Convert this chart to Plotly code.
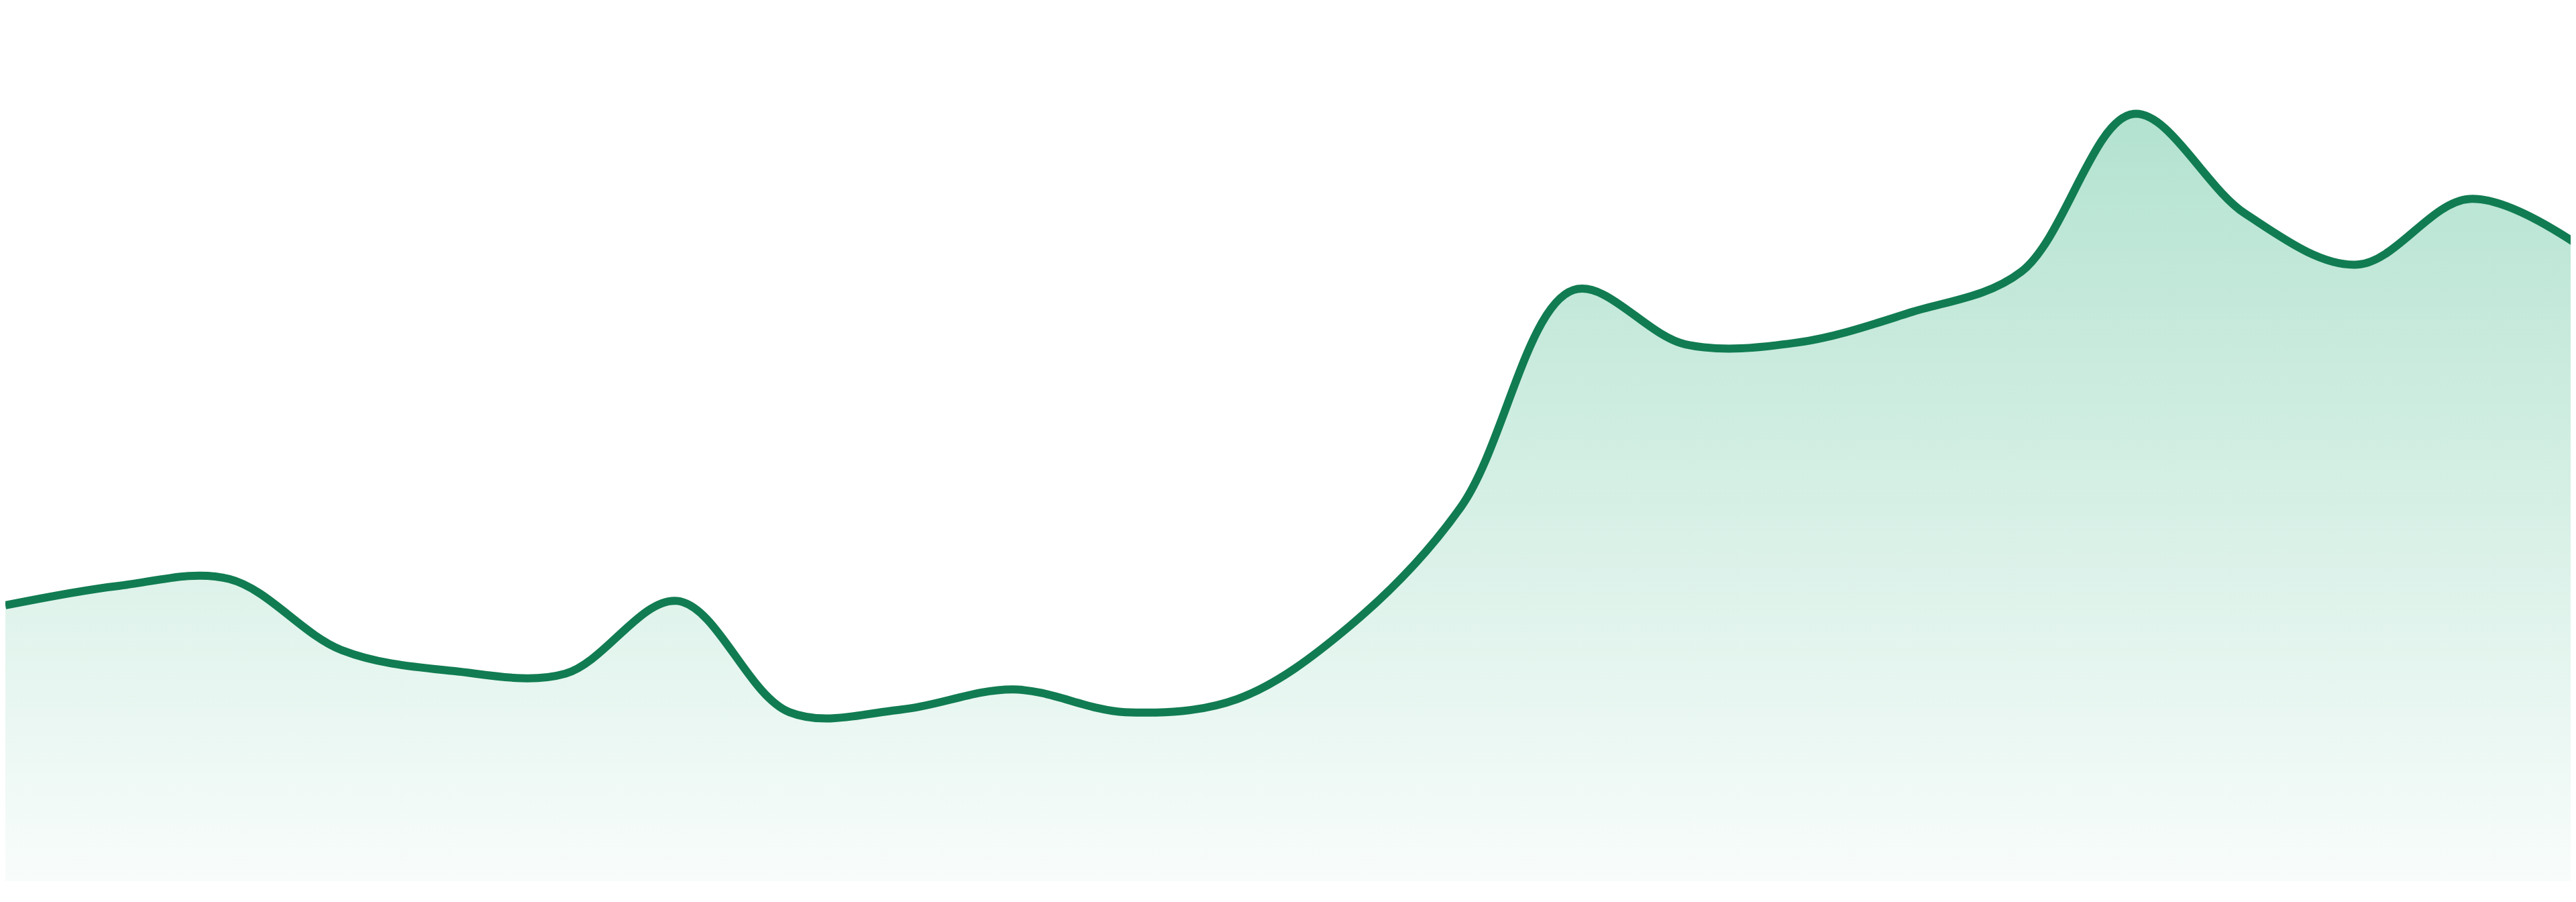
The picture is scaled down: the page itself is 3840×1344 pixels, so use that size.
import plotly.graph_objects as go

# Series values, one point per step
steps = list(range(24))
values = [31.5, 33.7, 34.5, 26.4, 24.0, 23.7, 32.0, 19.3, 19.6, 21.9, 19.3, 20.8,
          29.1, 42.8, 67.5, 61.3, 61.5, 64.9, 69.6, 87.6, 76.2, 70.4, 77.9, 72.4]

line_color = "#117c52"

fig = go.Figure()
fig.add_trace(go.Scatter(
    x=steps, y=values,
    mode="lines",
    line=dict(color=line_color, width=12, shape="spline", smoothing=1),
    fill="tozeroy",
    fillgradient=dict(
        type="vertical",
        start=0, stop=100,
        colorscale=[[0, "rgba(30,170,115,0.03)"], [1, "rgba(30,170,115,0.38)"]],
    ),
    hoverinfo="skip",
))

fig.update_layout(
    width=3840, height=1344,
    margin=dict(l=0, r=0, t=0, b=39),
    paper_bgcolor="white", plot_bgcolor="white",
    showlegend=False,
)
fig.update_xaxes(visible=False, range=[0, 23])
fig.update_yaxes(visible=False, range=[0, 100])

fig.write_html("out.html")
